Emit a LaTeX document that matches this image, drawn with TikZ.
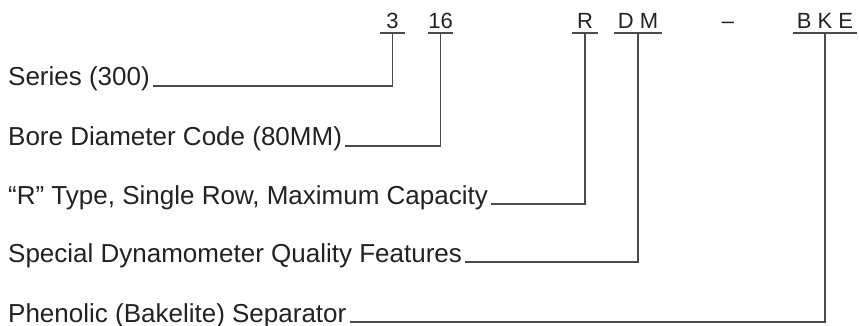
\documentclass[tikz,border=0pt]{standalone}
\usepackage{fontspec}
\setmainfont{Liberation Sans}
\definecolor{txt}{HTML}{222222}
\definecolor{ln}{HTML}{4A4A4A}
\begin{document}
\begin{tikzpicture}[x=1pt,y=-1pt,
  code/.style={font=\fontsize{22}{24}\selectfont, text=txt, inner xsep=0pt, inner ysep=4pt, text depth=0pt, anchor=south},
  lab/.style={font=\fontsize{26}{28}\selectfont, text=txt, inner sep=0pt, anchor=base west},
  conn/.style={draw=ln, line width=1.4pt},
  uline/.style={draw=ln, line width=1.3pt}]
\useasboundingbox (0,0) rectangle (859,326);
% code characters
\node[code, minimum width=25pt] (c3) at (392.5,33) {3};
\node[code, minimum width=25pt] (c16) at (440.5,33) {16};
\node[code, minimum width=26pt] (cR) at (585,33) {R};
\node[code, minimum width=48pt] (cDM) at (638,33) {D M};
\node[code] (cdash) at (728,33) {–};
\node[code, minimum width=64pt] (cBKE) at (825,33) {B K E};
% underlines
\foreach \n in {c3,c16,cR,cDM,cBKE}
  \draw[uline] (\n.south west) -- (\n.south east);
% labels
\node[lab] (l1) at (8,86) {Series (300)};
\node[lab] (l2) at (8,146) {Bore Diameter Code (80MM)};
\node[lab] (l3) at (8,204) {“R” Type, Single Row, Maximum Capacity};
\node[lab] (l4) at (8,262) {Special Dynamometer Quality Features};
\node[lab] (l5) at (8,322) {Phenolic (Bakelite) Separator};
% connectors
\draw[conn] (c3.south) |- ([xshift=3pt]l1.base east);
\draw[conn] (c16.south) |- ([xshift=3pt]l2.base east);
\draw[conn] (cR.south) |- ([xshift=3pt]l3.base east);
\draw[conn] (cDM.south) |- ([xshift=3pt]l4.base east);
\draw[conn] (cBKE.south) |- ([xshift=3pt]l5.base east);
\end{tikzpicture}
\end{document}
